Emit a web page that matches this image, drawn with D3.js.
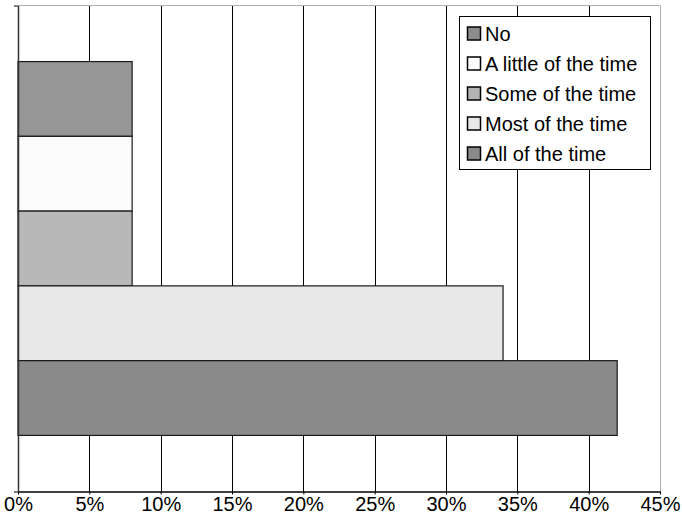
<!DOCTYPE html>
<html>
<head>
<meta charset="utf-8">
<script src="https://cdn.jsdelivr.net/npm/d3@7"></script>
<style>
  html, body { margin: 0; padding: 0; background: #fff; }
  svg { display: block; font-family: "Liberation Sans", Arial, sans-serif; }
</style>
</head>
<body>
<svg id="chart" width="682" height="516"></svg>
<script>
const categories = ["No", "A little of the time", "Some of the time", "Most of the time", "All of the time"];
const values = [8, 8, 8, 34, 42];
const barColors = ["#969696", "#fcfcfc", "#b8b8b8", "#e8e8e8", "#8a8a8a"];
const legendColors = ["#8c8c8c", "#fcfcfc", "#b3b3b3", "#e8e8e8", "#8a8a8a"];
const xTicks = [0, 5, 10, 15, 20, 25, 30, 35, 40, 45];

const svg = d3.select("#chart");
const pLeft = 18, pRight = 660, pTop = 5.5, pBottom = 491.5;

const x = d3.scaleLinear().domain([0, 45]).range([pLeft, pRight]);
const y = d3.scaleBand().domain(categories).range([pTop, pBottom]).paddingInner(0).paddingOuter(0.75);

// gridlines
svg.append("g").selectAll("line").data(xTicks.slice(1, -1)).join("line")
  .attr("x1", d => Math.round(x(d)) + 0.5).attr("x2", d => Math.round(x(d)) + 0.5)
  .attr("y1", pTop).attr("y2", pBottom)
  .attr("stroke", "#000").attr("stroke-width", 1);

// plot border top/right
svg.append("path")
  .attr("d", `M${pLeft},${pTop}H${Math.round(pRight)+0.5}V${pBottom}`)
  .attr("fill", "none").attr("stroke", "#b0b0b0").attr("stroke-width", 1);

// bars
svg.append("g").selectAll("rect").data(categories).join("rect")
  .attr("x", x(0))
  .attr("y", d => y(d))
  .attr("width", (d, i) => x(values[i]) - x(0))
  .attr("height", y.bandwidth())
  .attr("fill", (d, i) => barColors[i])
  .attr("stroke", "#1a1a1a").attr("stroke-width", 1.2);

// x axis
const xAxis = d3.axisBottom(x).tickValues(xTicks).tickFormat(d => d + "%").tickSize(3).tickSizeOuter(0);
const gx = svg.append("g").attr("transform", `translate(0,${pBottom})`).call(xAxis);
gx.select(".domain").attr("stroke", "#000").attr("stroke-width", 1.3);
gx.selectAll(".tick line").attr("stroke", "#000");
gx.selectAll(".tick text").attr("font-size", 20).attr("font-family", "Liberation Sans, Arial, sans-serif")
  .attr("fill", "#000").attr("y", 3).attr("dy", "0.8em");

// y axis (category), no labels
const yAxis = d3.axisLeft(d3.scaleLinear().domain([0, 1]).range([pBottom, pTop])).tickValues([0, 1]).tickFormat("").tickSize(4).tickSizeOuter(0);
const gy = svg.append("g").attr("transform", `translate(${pLeft},0)`).call(yAxis);
gy.select(".domain").attr("stroke", "#333").attr("stroke-width", 1.5);
gy.selectAll(".tick line").attr("stroke", "#000");

// legend
const lg = svg.append("g");
lg.append("rect").attr("x", 459.5).attr("y", 16.5).attr("width", 191).attr("height", 153)
  .attr("fill", "#fff").attr("stroke", "#000").attr("stroke-width", 1);
const items = lg.selectAll("g.item").data(categories).join("g").attr("class", "item")
  .attr("transform", (d, i) => `translate(0,${33.5 + i * 30})`);
items.append("rect").attr("x", 467.5).attr("y", -6.5).attr("width", 13).attr("height", 13)
  .attr("fill", (d, i) => legendColors[i]).attr("stroke", "#000").attr("stroke-width", 1.5);
items.append("text").attr("x", 485).attr("y", 7.2).attr("font-size", 20).attr("fill", "#000").text(d => d);
</script>
</body>
</html>
